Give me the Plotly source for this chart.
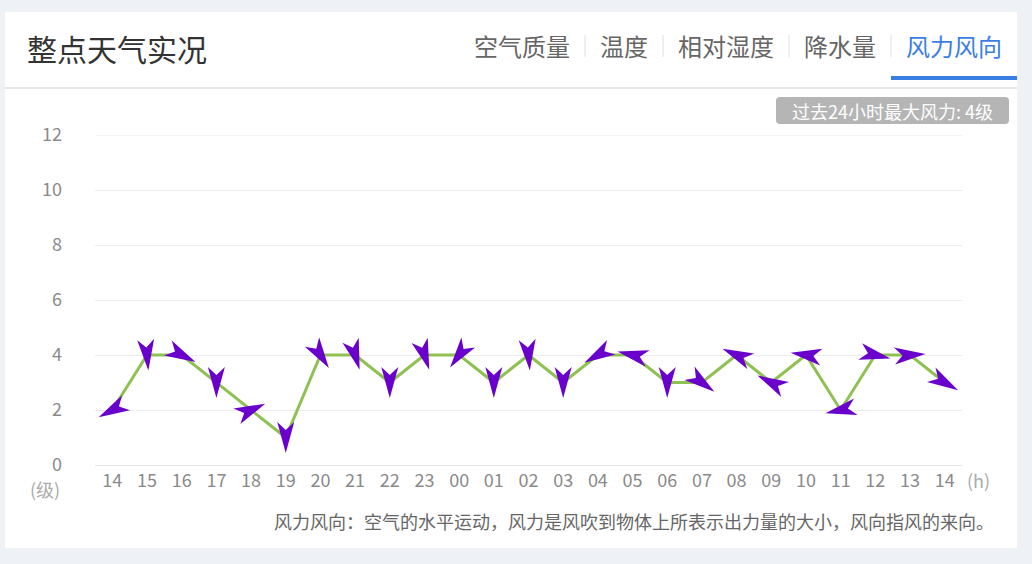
import math
import plotly.graph_objects as go

# ---------------- data ----------------
hours = ["14", "15", "16", "17", "18", "19", "20", "21", "22", "23", "00", "01", "02",
         "03", "04", "05", "06", "07", "08", "09", "10", "11", "12", "13", "14"]
wind_level = [2, 4, 4, 3, 2, 1, 4, 4, 3, 4, 4, 3, 4, 3, 4, 4, 3, 3, 4, 3, 4, 2, 4, 4, 3]
# arrow rotation (degrees clockwise from "pointing up")
wind_arrow_deg = [242, 175, 117, 180, 66, 180, 147, 163, 180, 162, 216, 180, 175,
                  180, 240, 283, 180, 127, 294, 297, 278, 258, 103, 86, 120]
y_ticks = [0, 2, 4, 6, 8, 10, 12]
tabs = ["空气质量", "温度", "相对湿度", "降水量", "风力风向"]
title_text = "整点天气实况"
badge_text = "过去24小时最大风力: 4级"
footer_text = "风力风向：空气的水平运动，风力是风吹到物体上所表示出力量的大小，风向指风的来向。"

# ---------------- style ----------------
FONT = "Noto Sans CJK SC, Noto Sans, sans-serif"
PAGE_BG = "#eef1f5"
GREEN = "#8fc152"
PURPLE = "#6a00cc"
BLUE = "#3a7ee4"
TICK_C = "#8a8a8a"
GRID_C = "#ececec"

W, H = 1032, 564
L, R, T, B = 95, 962, 135, 465  # plot area in pixels
PW, PH = R - L, B - T


def px2x(px):
    return (px - L) / PW


def py2y(py):
    return (B - py) / PH


fig = go.Figure()
fig.add_trace(go.Scatter(
    x=list(range(len(hours))), y=wind_level, mode="lines",
    line=dict(color=GREEN, width=3), hoverinfo="skip", showlegend=False,
))

shapes = []
# white card
shapes.append(dict(type="rect", xref="paper", yref="paper", layer="below",
                   x0=px2x(5), x1=px2x(1017), y0=py2y(548), y1=py2y(12),
                   fillcolor="white", line=dict(width=0)))
# header separator
shapes.append(dict(type="rect", xref="paper", yref="paper", layer="below",
                   x0=px2x(5), x1=px2x(1017), y0=py2y(89), y1=py2y(87),
                   fillcolor="#e6e6e6", line=dict(width=0)))
# tab separators
for sx in [585, 663, 789, 891]:
    shapes.append(dict(type="line", xref="paper", yref="paper", layer="below",
                       x0=px2x(sx), x1=px2x(sx), y0=py2y(57), y1=py2y(35),
                       line=dict(color="#e0e0e0", width=1)))
# active tab underline
shapes.append(dict(type="rect", xref="paper", yref="paper", layer="below",
                   x0=px2x(891), x1=px2x(1017), y0=py2y(80), y1=py2y(76),
                   fillcolor=BLUE, line=dict(width=0)))
# top grid line (plotly omits the one on the plot edge)
shapes.append(dict(type="line", xref="paper", yref="y", layer="below",
                   x0=0, x1=1, y0=y_ticks[-1], y1=y_ticks[-1],
                   line=dict(color=GRID_C, width=1)))
# rounded badge
bw, bh, rr = 116.5, 13.5, 4
badge_path = (f"M{-bw + rr},{bh} L{bw - rr},{bh} Q{bw},{bh} {bw},{bh - rr} "
              f"L{bw},{-bh + rr} Q{bw},{-bh} {bw - rr},{-bh} L{-bw + rr},{-bh} "
              f"Q{-bw},{-bh} {-bw},{-bh + rr} L{-bw},{bh - rr} Q{-bw},{bh} {-bw + rr},{bh} Z")
shapes.append(dict(type="path", xref="paper", yref="paper", layer="below",
                   xsizemode="pixel", ysizemode="pixel",
                   xanchor=px2x(892.5), yanchor=py2y(110.5), path=badge_path,
                   fillcolor="#b5b5b5", line=dict(width=0)))

# wind arrows (notched arrow heads centred on the data point)
glyph = [(0, -15.5), (8.5, 15.5), (0, 7.5), (-8.5, 15.5)]
for i, (v, a) in enumerate(zip(wind_level, wind_arrow_deg)):
    t = math.radians(a)
    c, s = math.cos(t), math.sin(t)
    pts = [(x * c - y * s, x * s + y * c) for x, y in glyph]
    path = "M" + " L".join(f"{x:.2f},{-y:.2f}" for x, y in pts) + " Z"
    shapes.append(dict(type="path", xref="x", yref="y", layer="above",
                       xsizemode="pixel", ysizemode="pixel",
                       xanchor=i, yanchor=v, path=path,
                       fillcolor=PURPLE, line=dict(width=0)))

ann = []
ann.append(dict(text=title_text, xref="paper", yref="paper", x=px2x(25), y=py2y(48),
                xanchor="left", yanchor="middle", showarrow=False,
                font=dict(family=FONT, size=30, color="#333333")))
tab_cx = [522, 624, 726, 840, 954]
for name, cx in zip(tabs, tab_cx):
    ann.append(dict(text=name, xref="paper", yref="paper", x=px2x(cx), y=py2y(45),
                    xanchor="center", yanchor="middle", showarrow=False,
                    font=dict(family=FONT, size=24,
                              color=BLUE if name == tabs[-1] else "#666666")))
ann.append(dict(text=badge_text, xref="paper", yref="paper", x=px2x(892.5), y=py2y(110.5),
                xanchor="center", yanchor="middle", showarrow=False,
                font=dict(family=FONT, size=18, color="white")))
ann.append(dict(text="(级)", xref="paper", yref="paper", x=px2x(62), y=py2y(489),
                xanchor="right", yanchor="middle", showarrow=False,
                font=dict(family=FONT, size=18, color="#aaaaaa")))
ann.append(dict(text="(h)", xref="paper", yref="paper", x=px2x(979), y=py2y(480),
                xanchor="center", yanchor="middle", showarrow=False,
                font=dict(family=FONT, size=18, color="#aaaaaa")))
ann.append(dict(text=footer_text, xref="paper", yref="paper", x=px2x(996), y=py2y(521),
                xanchor="right", yanchor="middle", showarrow=False,
                font=dict(family=FONT, size=18, color="#666666")))

fig.update_layout(
    width=W, height=H,
    margin=dict(l=L, r=W - R, t=T, b=H - B, pad=0),
    paper_bgcolor=PAGE_BG, plot_bgcolor="white",
    font=dict(family=FONT, color=TICK_C, size=18),
    shapes=shapes, annotations=ann, showlegend=False,
    xaxis=dict(range=[-0.5, len(hours) - 0.5], tickmode="array",
               tickvals=list(range(len(hours))), ticktext=hours,
               showgrid=False, zeroline=False, showline=False, ticks="",
               tickfont=dict(family=FONT, size=18, color=TICK_C),
               ticklabelstandoff=3, fixedrange=True),
    yaxis=dict(range=[0, 12], tickmode="array", tickvals=y_ticks,
               showgrid=True, gridcolor=GRID_C, gridwidth=1,
               zeroline=True, zerolinecolor="#e6e6e6", zerolinewidth=1,
               showline=False, ticks="",
               tickfont=dict(family=FONT, size=18, color=TICK_C),
               ticklabelstandoff=32, fixedrange=True),
)

fig.write_html("out.html", config={"displayModeBar": False})
